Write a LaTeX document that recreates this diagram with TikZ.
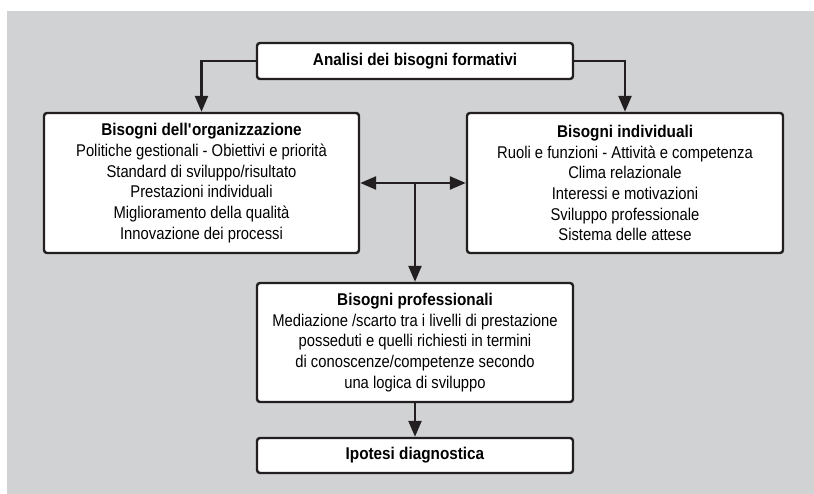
\documentclass[tikz,border=0pt]{standalone}
\usepackage{fontspec}
\setmainfont{Liberation Sans}[UprightFeatures={FakeStretch=0.87}, BoldFeatures={FakeStretch=0.9}]
\usetikzlibrary{arrows.meta}
\definecolor{hintergrund}{HTML}{D1D2D4}
\definecolor{linie}{HTML}{231F20}
\tikzset{
	kasten/.style={draw=linie, line width=2.4pt, fill=white, rounded corners=3pt,
	minimum width=316pt, align=center, inner sep=0pt,
	font=\fontsize{17}{20.7}\selectfont},
	pfeil/.style={draw=linie, line width=2.4pt, -{Triangle[length=16pt,width=13pt]}},
	doppelpfeil/.style={pfeil, {Triangle[length=16pt,width=13pt]}-{Triangle[length=16pt,width=13pt]}}
}
\begin{document}
\begin{tikzpicture}[x=1pt, y=1pt]
	% Hintergrund
	\useasboundingbox (0, 0) rectangle (814, -494);
	\fill[hintergrund] (7, -11) rectangle (814, -494);

	% Kaesten
	\node[kasten, minimum height=36pt] (analisi) at (415, -61)
		{\textbf{Analisi dei bisogni formativi}};
	\node[kasten, minimum width=315pt, minimum height=140pt] (organizzazione) at (201.5, -183)
		{\textbf{Bisogni dell\textquotesingle organizzazione}\\
		Politiche gestionali - Obiettivi e priorità\\
		Standard di sviluppo/risultato\\
		Prestazioni individuali\\
		Miglioramento della qualità\\
		Innovazione dei processi};
	\node[kasten, minimum height=140pt] (individuali) at (625, -183)
		{\textbf{Bisogni individuali}\\
		Ruoli e funzioni - Attività e competenza\\
		Clima relazionale\\
		Interessi e motivazioni\\
		Sviluppo professionale\\
		Sistema delle attese};
	\node[kasten, minimum height=119pt] (professionali) at (415, -342.5)
		{\textbf{Bisogni professionali}\\
		Mediazione /scarto tra i livelli di prestazione\\
		posseduti e quelli richiesti in termini\\
		di conoscenze/competenze secondo\\
		una logica di sviluppo};
	\node[kasten, minimum height=35pt] (ipotesi) at (415, -455.5)
		{\textbf{Ipotesi diagnostica}};

	% Pfeile
	\draw[pfeil] (analisi.west) -| (organizzazione.north);
	\draw[pfeil] (analisi.east) -| (individuali.north);
	\draw[doppelpfeil] (organizzazione.east) -- (individuali.west);
	\coordinate (knoten) at (professionali.north |- organizzazione.east);
	\draw[pfeil] (knoten) -- (professionali.north);
	\draw[pfeil] (professionali.south) -- (ipotesi.north);
\end{tikzpicture}
\end{document}
